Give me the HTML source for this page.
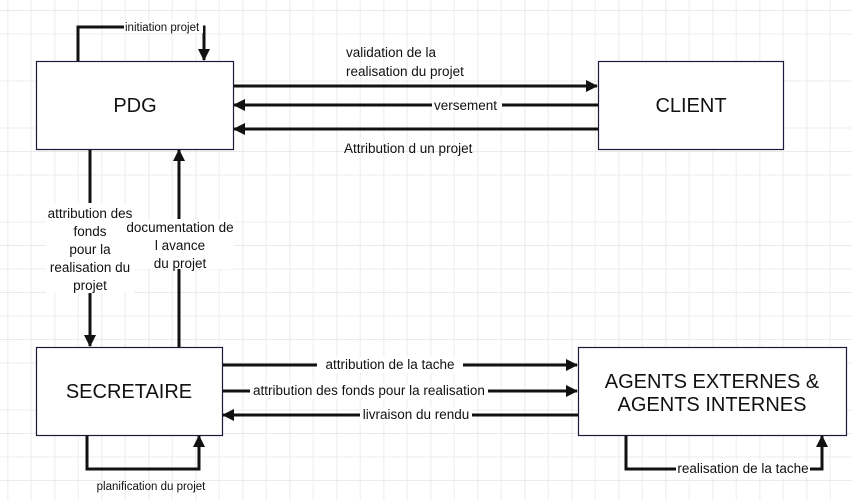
<!DOCTYPE html>
<html><head><meta charset="utf-8"><style>
html,body{margin:0;padding:0;background:#fff}
svg{display:block}
text{font-family:"Liberation Sans",sans-serif;fill:#111}
</style></head><body>
<svg width="852" height="500" viewBox="0 0 852 500" xmlns="http://www.w3.org/2000/svg">
<defs>
<pattern id="g" x="7.7" y="10.5" width="47" height="47" patternUnits="userSpaceOnUse">
<path d="M0 0V47M0 0H47" stroke="#d6d6d6" stroke-width="1" fill="none"/>
<path d="M23.5 0V47M0 23.5H47" stroke="#ececec" stroke-width="1" fill="none"/>
</pattern>
<marker id="a" markerWidth="12" markerHeight="12" refX="11" refY="6" orient="auto" markerUnits="userSpaceOnUse" viewBox="0 0 12 12">
<path d="M0 0L12 6L0 12z" fill="#111"/>
</marker>
</defs>
<rect width="852" height="500" fill="url(#g)"/>
<g stroke="#111" stroke-width="3" fill="none">
<path d="M78 61V27H204V60" marker-end="url(#a)"/>
<path d="M233 86H597" marker-end="url(#a)"/>
<path d="M598 105H234" marker-end="url(#a)"/>
<path d="M598 129H234" marker-end="url(#a)"/>
<path d="M90 149V346" marker-end="url(#a)"/>
<path d="M179 347V150" marker-end="url(#a)"/>
<path d="M222 365H577" marker-end="url(#a)"/>
<path d="M222 391H577" marker-end="url(#a)"/>
<path d="M578 415H223" marker-end="url(#a)"/>
<path d="M87 435V469H199V436" marker-end="url(#a)"/>
<path d="M626 435V469H822V436" marker-end="url(#a)"/>
</g>
<g fill="#fff" stroke="#1a1a3a" stroke-width="1.2">
<rect x="36.5" y="61.5" width="197" height="88"/>
<rect x="598.5" y="61.5" width="185" height="88"/>
<rect x="36.5" y="347.5" width="186" height="88"/>
<rect x="578.5" y="347.5" width="268" height="88"/>
</g>
<g font-size="20" text-anchor="middle">
<text x="135" y="112">PDG</text>
<text x="691" y="112">CLIENT</text>
<text x="129" y="398">SECRETAIRE</text>
<text x="712" y="388">AGENTS EXTERNES &amp;</text>
<text x="712" y="411">AGENTS INTERNES</text>
</g>
<g font-size="13.5">
<rect x="124" y="20" width="79" height="13" fill="#fff"/>
<text x="125" y="31" font-size="11.5">initiation projet</text>
<text x="346" y="57">validation de la</text>
<text x="346" y="76">realisation du projet</text>
<rect x="432" y="97" width="70" height="16" fill="#fff"/>
<text x="434" y="110">versement</text>
<text x="344" y="153">Attribution d un projet</text>
<g text-anchor="middle">
<rect x="46" y="203" width="88" height="90" fill="#fff"/>
<rect x="126" y="219" width="108" height="50" fill="#fff"/>
<text x="90" y="218">attribution des</text>
<text x="90" y="236">fonds</text>
<text x="90" y="254">pour la</text>
<text x="90" y="272">realisation du</text>
<text x="90" y="290">projet</text>
<text x="180" y="232">documentation de</text>
<text x="180" y="250">l avance</text>
<text x="180" y="268">du projet</text>
<rect x="317" y="357" width="146" height="16" fill="#fff"/>
<text x="390" y="369">attribution de la tache</text>
<rect x="250" y="383" width="238" height="16" fill="#fff"/>
<text x="369" y="395">attribution des fonds pour la realisation</text>
<rect x="360" y="407" width="112" height="16" fill="#fff"/>
<text x="416" y="419">livraison du rendu</text>
<rect x="676" y="461" width="134" height="16" fill="#fff"/>
<text x="743" y="473">realisation de la tache</text>
<text x="151" y="490" font-size="11.5">planification du projet</text>
</g>
</g>
</svg>
</body></html>
